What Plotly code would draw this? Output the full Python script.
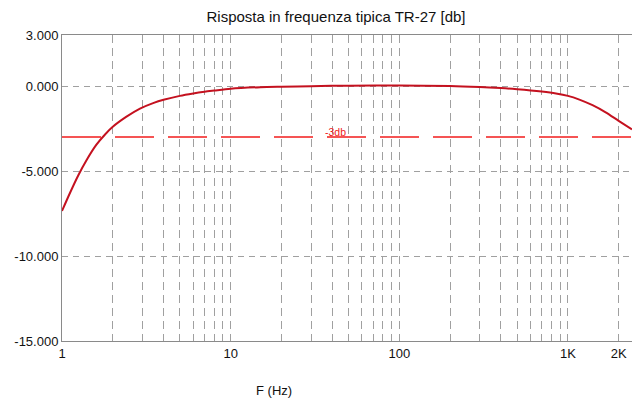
import math
import plotly.graph_objects as go

freq_hz = [1, 1.12, 1.25, 1.4, 1.6, 1.8, 2, 2.4, 2.9, 3.5, 4, 5, 6, 7, 8, 10, 15, 20, 30, 50, 100,
           200, 300, 400, 500, 700, 850, 1000, 1170, 1400, 1675, 2000, 2400]
response_db = [-7.35, -6.25, -5.25, -4.35, -3.45, -2.85, -2.40, -1.82, -1.33, -0.99, -0.81, -0.58, -0.44,
               -0.34, -0.27, -0.16, -0.07, -0.04, -0.01, 0.02, 0.03,
               0.0, -0.06, -0.12, -0.19, -0.33, -0.44, -0.58, -0.80, -1.13, -1.55, -2.05, -2.55]

ref_x = [1, 2400]
ref_db = [-3, -3]
ref_label = "-3db"
ref_label_freq = 42

x_grid = [1, 2, 3, 4, 5, 6, 7, 8, 9, 10, 20, 30, 40, 50, 60, 70, 80, 90,
          100, 200, 300, 400, 500, 600, 700, 800, 900, 1000, 2000]
x_labels = {1: "1", 10: "10", 100: "100", 1000: "1K", 2000: "2K"}
y_ticks = [3, 0, -5, -10, -15]

fig = go.Figure()
fig.add_trace(go.Scatter(x=ref_x, y=ref_db, mode="lines",
                         line=dict(color="#f21d1d", width=1.3, dash="39px,14px"),
                         hoverinfo="skip", showlegend=False))
fig.add_trace(go.Scatter(x=freq_hz, y=response_db, mode="lines",
                         line=dict(color="#c4111f", width=2, shape="spline", smoothing=0.8),
                         showlegend=False))

fig.add_annotation(x=math.log10(ref_label_freq), y=-3, xref="x", yref="y", text=ref_label,
                   showarrow=False, yanchor="bottom", yshift=-3,
                   font=dict(color="#f01818", size=10.5, family="Liberation Sans, Arial"))
fig.add_annotation(x=(274 - 62) / 570, y=0, xref="paper", yref="paper", text="F (Hz)",
                   showarrow=False, xanchor="center", yanchor="middle", yshift=-49,
                   font=dict(color="#111", size=13, family="Liberation Sans, Arial"))

fig.update_layout(
    width=633, height=401,
    margin=dict(l=62, r=1, t=35, b=60),
    paper_bgcolor="white", plot_bgcolor="white",
    title=dict(text="Risposta in frequenza tipica TR-27 [db]", x=336/633, xanchor="center",
               y=1 - 17/401, yanchor="middle",
               font=dict(size=15, color="#111", family="Liberation Sans, Arial")),
    font=dict(family="Liberation Sans, Arial", size=13, color="#111"),
    xaxis=dict(type="log", range=[0, math.log10(2400)], automargin=False,
               tickvals=x_grid, ticktext=[x_labels.get(v, "") for v in x_grid],
               showgrid=True, gridcolor="#a0a0a0", griddash="8px,5px", gridwidth=1,
               showline=True, linecolor="#8a8a8a", linewidth=1, mirror=True,
               ticks="", zeroline=False, tickfont=dict(size=13, color="#111")),
    yaxis=dict(range=[-15, 3], tickvals=y_ticks, ticktext=[f"{v:.3f}" for v in y_ticks],
               automargin=False,
               showgrid=True, gridcolor="#a0a0a0", griddash="6px,5px", gridwidth=1,
               showline=True, linecolor="#8a8a8a", linewidth=1,
               ticks="", zeroline=False, tickfont=dict(size=13, color="#111")),
)

fig.write_html("out.html", config={"responsive": False, "displayModeBar": False},
               post_script="document.body.style.margin='0px';document.body.style.overflow='hidden';")
